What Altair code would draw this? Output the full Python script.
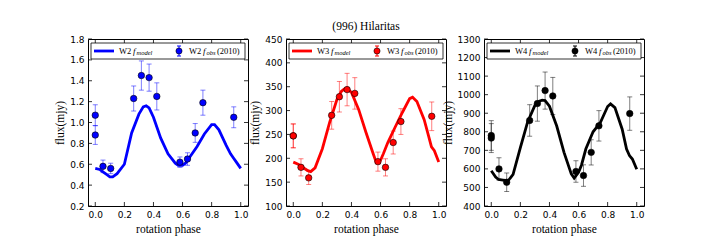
import altair as alt
import pandas as pd

# ---------------- data ----------------
phase_obs = [0.0, 0.0, 0.053, 0.106, 0.264, 0.317, 0.370, 0.423, 0.582, 0.634, 0.687, 0.740, 0.952]

w2_obs = [1.07, 0.88, 0.58, 0.56, 1.23, 1.45, 1.43, 1.25, 0.62, 0.65, 0.90, 1.19, 1.05]
w2_err = [0.10, 0.09, 0.06, 0.05, 0.12, 0.14, 0.13, 0.13, 0.05, 0.06, 0.09, 0.12, 0.10]

w3_obs = [247, 247, 181, 159, 290, 329, 344, 336, 193, 181, 233, 277, 288]
w3_err = [25, 25, 18, 14, 29, 32, 34, 33, 20, 18, 24, 27, 30]

w4_obs = [780, 766, 600, 528, 861, 952, 1022, 993, 586, 564, 689, 832, 898]
w4_err = [80, 78, 60, 50, 85, 95, 100, 100, 58, 58, 68, 82, 90]

phase_model = [0.0, 0.03, 0.05, 0.08, 0.10, 0.12, 0.15, 0.20, 0.25, 0.30, 0.33, 0.35, 0.37,
               0.40, 0.45, 0.50, 0.55, 0.57, 0.60, 0.62, 0.65, 0.70, 0.75, 0.80, 0.82,
               0.85, 0.90, 0.93, 0.95, 0.97, 1.0]
w2_model = [0.56, 0.55, 0.53, 0.50, 0.48, 0.48, 0.51, 0.60, 0.90, 1.08, 1.15, 1.16, 1.14,
            1.05, 0.85, 0.70, 0.61, 0.59, 0.59, 0.61, 0.67, 0.77, 0.89, 0.98, 0.98,
            0.93, 0.78, 0.70, 0.66, 0.62, 0.56]
w3_model = [192, 188, 185, 178, 174, 172, 180, 220, 275, 323, 340, 345, 346,
            338, 302, 254, 209, 192, 196, 210, 233, 265, 296, 325, 328,
            319, 281, 247, 224, 216, 192]
w4_model = [590, 556, 543, 540, 538, 540, 570, 715, 853, 942, 965, 970, 968,
            938, 831, 689, 573, 550, 582, 620, 707, 800, 850, 936, 950,
            930, 814, 707, 672, 653, 598]

x_ticks = [0.0, 0.2, 0.4, 0.6, 0.8, 1.0]
w2_ticks = [0.2, 0.4, 0.6, 0.8, 1.0, 1.2, 1.4, 1.6, 1.8]
w3_ticks = [100, 150, 200, 250, 300, 350, 400, 450]
w4_ticks = [400, 500, 600, 700, 800, 900, 1000, 1100, 1200, 1300]

bands = ["W2", "W3", "W4"]
colors = ["#0000ff", "#ff0000", "#000000"]
title_text = "(996) Hilaritas"
x_title = "rotation phase"
y_title = "flux(mjy)"
leg_model_sub = "model"
leg_obs_sub = "obs"
leg_year = "(2010)"

W, H = 160, 167
SERIF = "Liberation Serif"
SANS = "DejaVu Sans"


def panel(band, obs, err, model, color, ydom, yticks, yfmt, title=None):
    df_obs = pd.DataFrame({"phase": phase_obs, "flux": obs,
                           "lo": [o - e for o, e in zip(obs, err)],
                           "hi": [o + e for o, e in zip(obs, err)]})
    df_mod = pd.DataFrame({"phase": phase_model, "flux": model})
    xs = alt.Scale(domain=[-0.05, 1.05], nice=False, zero=False)
    ys = alt.Scale(domain=ydom, nice=False, zero=False)
    xax = alt.Axis(values=x_ticks, format=".1f", title=x_title, labelOverlap=False,
                   labelFlush=False)
    yax = alt.Axis(values=yticks, format=yfmt, title=y_title, labelOverlap=False,
                   labelFlush=False)

    def X(f):
        return alt.X(f, scale=xs, axis=xax)

    def Y(f):
        return alt.Y(f, scale=ys, axis=yax)

    line = alt.Chart(df_mod).mark_line(color=color, strokeWidth=2.8).encode(
        x=X("phase:Q"), y=Y("flux:Q"))
    bars = alt.Chart(df_obs).mark_rule(color=color, opacity=0.5, strokeWidth=1).encode(
        x=X("phase:Q"), y=Y("lo:Q"), y2="hi:Q")
    cap_hi = alt.Chart(df_obs).mark_tick(color=color, opacity=0.5, orient="horizontal",
                                         size=5, thickness=1).encode(
        x=X("phase:Q"), y=Y("hi:Q"))
    cap_lo = alt.Chart(df_obs).mark_tick(color=color, opacity=0.5, orient="horizontal",
                                         size=5, thickness=1).encode(
        x=X("phase:Q"), y=Y("lo:Q"))
    pts = alt.Chart(df_obs).mark_point(filled=True, fill=color, stroke="black",
                                       strokeWidth=0.6, opacity=1, size=42).encode(
        x=X("phase:Q"), y=Y("flux:Q"))

    # inward ticks on all four sides
    dyt = pd.DataFrame({"v": yticks})
    dxt = pd.DataFrame({"v": x_ticks})
    tl = alt.Chart(dyt).mark_rule(color="black", strokeWidth=0.8).encode(
        y=Y("v:Q"), x=alt.value(0), x2=alt.value(4))
    tr = alt.Chart(dyt).mark_rule(color="black", strokeWidth=0.8).encode(
        y=Y("v:Q"), x=alt.value(W - 4), x2=alt.value(W))
    tb = alt.Chart(dxt).mark_rule(color="black", strokeWidth=0.8).encode(
        x=X("v:Q"), y=alt.value(H - 4), y2=alt.value(H))
    tt = alt.Chart(dxt).mark_rule(color="black", strokeWidth=0.8).encode(
        x=X("v:Q"), y=alt.value(0), y2=alt.value(4))

    # legend box
    one = pd.DataFrame({"a": [0]})
    box = alt.Chart(one).mark_rect(fill="white", stroke="black", strokeWidth=0.8).encode(
        x=alt.value(3), x2=alt.value(157), y=alt.value(4), y2=alt.value(20))
    lline = alt.Chart(one).mark_rule(color=color, strokeWidth=2.8).encode(
        x=alt.value(6), x2=alt.value(26), y=alt.value(12))
    lbar = alt.Chart(one).mark_rule(color=color, strokeWidth=1).encode(
        x=alt.value(91), y=alt.value(7), y2=alt.value(17))
    lcap1 = alt.Chart(one).mark_rule(color=color, strokeWidth=1).encode(
        x=alt.value(89), x2=alt.value(93), y=alt.value(7))
    lcap2 = alt.Chart(one).mark_rule(color=color, strokeWidth=1).encode(
        x=alt.value(89), x2=alt.value(93), y=alt.value(17))
    lpt = alt.Chart(one).mark_point(filled=True, fill=color, stroke="black", strokeWidth=0.6,
                                    opacity=1, size=38).encode(x=alt.value(91), y=alt.value(12))

    def txt(s, x, y, size=8.5, style="normal"):
        return alt.Chart(one).mark_text(align="left", baseline="middle", font=SERIF,
                                        fontSize=size, fontStyle=style, color="black").encode(
            x=alt.value(x), y=alt.value(y), text=alt.value(s))

    texts = [
        txt(band, 31, 12), txt("f", 45, 12, 9, "italic"), txt(leg_model_sub, 48.5, 14, 6.5, "italic"),
        txt(band, 101, 12), txt("f", 115, 12, 9, "italic"), txt(leg_obs_sub, 118.5, 14, 6.5, "italic"),
        txt(leg_year, 129, 12),
    ]

    ch = alt.layer(line, bars, cap_hi, cap_lo, pts, tl, tr, tb, tt,
                   box, lline, lbar, lcap1, lcap2, lpt, *texts).properties(width=W, height=H)
    if title:
        ch = ch.properties(title=alt.TitleParams(title, font=SERIF, fontSize=11.5,
                                                 fontWeight="normal", offset=3, color="black"))
    return ch


p1 = panel(bands[0], w2_obs, w2_err, w2_model, colors[0], [0.2, 1.8], w2_ticks, ".1f")
p2 = panel(bands[1], w3_obs, w3_err, w3_model, colors[1], [100, 450], w3_ticks, "d", title_text)
p3 = panel(bands[2], w4_obs, w4_err, w4_model, colors[2], [400, 1300], w4_ticks, "d")

chart = alt.hconcat(p1, p2, p3, spacing=38, bounds="flush").properties(
    padding={"left": 46, "top": 12, "right": 5, "bottom": 5}
).configure_view(stroke="black", strokeWidth=1).configure_axis(
    domain=False, ticks=False, grid=False,
    labelFont=SANS, labelFontSize=9, labelColor="black", labelPadding=4,
    titleFont=SERIF, titleFontSize=11.5, titleFontWeight="normal", titleColor="black",
    titlePadding=4
).configure_axisY(titlePadding=4)

chart.save("out.html", embed_options={"renderer": "svg", "actions": False})
